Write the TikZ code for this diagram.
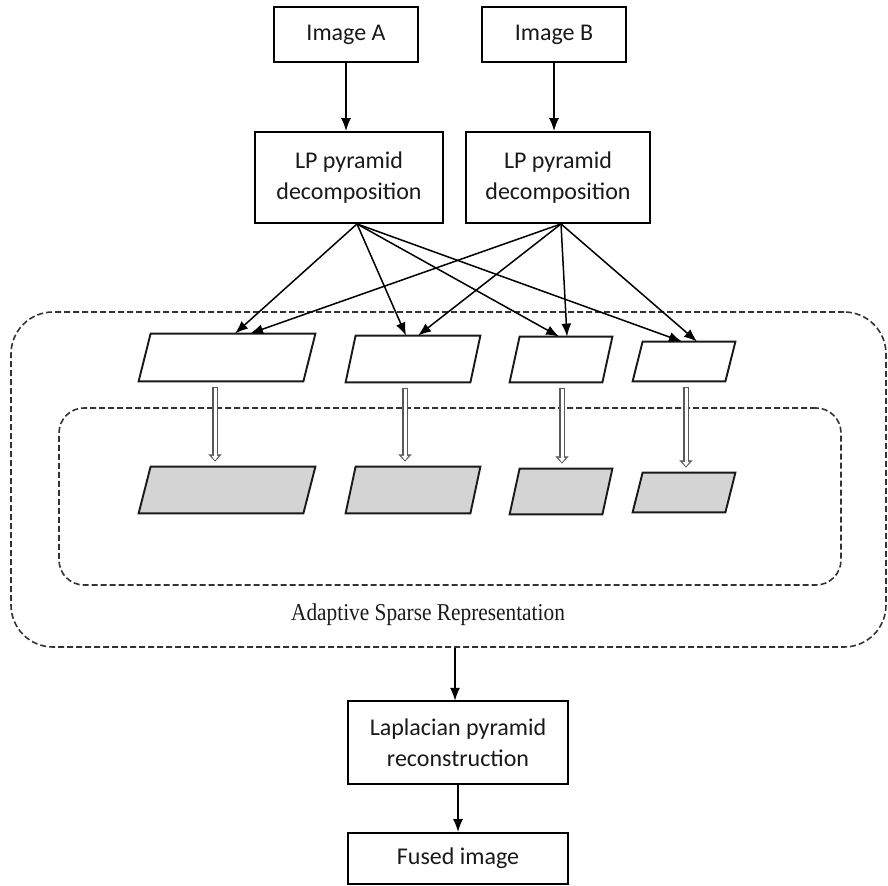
\documentclass[tikz,border=0pt]{standalone}
\usepackage{fontspec}
\usepackage{graphicx}
\setmainfont{Carlito}
\newfontfamily\serifT{Liberation Serif}
\usetikzlibrary{arrows.meta,calc}
\newcommand{\paral}[3]{%
  \draw[parastyle,#3] ([xshift=#2]#1.north west) -- ([xshift=#2]#1.north east)
    -- ([xshift=-#2]#1.south east) -- ([xshift=-#2]#1.south west) -- cycle;}
\newcommand{\hollowarrow}[2]{%
  \draw[dblout] #1 -- #2;
  \draw[dblin] #1 -- #2;}
\begin{document}
\begin{tikzpicture}[x=0.5pt,y=-0.5pt,
  box/.style={draw, line width=0.95pt, inner sep=0pt, align=center,
    font=\fontsize{12}{15.5}\selectfont, text=black!90},
  pnode/.style={rectangle, inner sep=0pt},
  parastyle/.style={draw=black!90, line width=0.95pt, line join=miter},
  arr/.style={line width=0.75pt, -{Latex[length=6.5pt,width=5pt]}},
  dblout/.style={draw=black!65, line width=2.6pt, shorten <=3pt, shorten >=2.5pt,
    -{Triangle[length=3.6pt,width=6.4pt]}},
  dblin/.style={draw=white, line width=1.5pt, shorten <=3.4pt, shorten >=3.2pt,
    -{Triangle[length=2.2pt,width=3.5pt]}},
  dsh/.style={draw=black!80, line width=0.8pt, dash pattern=on 3pt off 1.5pt,
    rounded corners=#1, inner sep=0pt},
]
\useasboundingbox (0,0) rectangle (888,886);

% dashed groups
\node[dsh=21pt, minimum width=437.5pt, minimum height=167.5pt] (asr) at (448.5,479.5) {};
\node[dsh=12.5pt, minimum width=391pt, minimum height=88.5pt] (inner) at (450,496.5) {};
\node[font=\serifT\fontsize{11}{13}\selectfont, text=black!90] (lbl) at (428,615)
  {\scalebox{0.97}[1.1]{Adaptive Sparse Representation}};

% top boxes
\node[box, minimum width=72pt, minimum height=27.5pt] (imgA) at (346,34.5) {Image A};
\node[box, minimum width=72pt, minimum height=27.5pt] (imgB) at (554,34.5) {Image B};
\node[box, minimum width=94pt, minimum height=45.5pt] (lpA) at (349,177.5) {LP pyramid\\decomposition};
\node[box, minimum width=92pt, minimum height=45.5pt] (lpB) at (558,177.5) {LP pyramid\\decomposition};

% parallelograms (named bodies)
\node[pnode, minimum width=82pt, minimum height=23.5pt] (t1) at (227,357.5) {};
\node[pnode, minimum width=62pt, minimum height=23pt] (t2) at (413,359) {};
\node[pnode, minimum width=46pt, minimum height=22.5pt] (t3) at (561,359.5) {};
\node[pnode, minimum width=46pt, minimum height=19.5pt] (t4) at (684,361.5) {};
\node[pnode, minimum width=82pt, minimum height=23pt] (b1) at (227,490) {};
\node[pnode, minimum width=62pt, minimum height=23pt] (b2) at (413,490) {};
\node[pnode, minimum width=46pt, minimum height=22.5pt] (b3) at (561,491.5) {};
\node[pnode, minimum width=46pt, minimum height=19.5pt] (b4) at (684,492.5) {};
\paral{t1}{3pt}{fill=white}
\paral{t2}{2.5pt}{fill=white}
\paral{t3}{2.5pt}{fill=white}
\paral{t4}{2.5pt}{fill=white}
\paral{b1}{3pt}{fill=black!17}
\paral{b2}{2.5pt}{fill=black!17}
\paral{b3}{2.5pt}{fill=black!17}
\paral{b4}{2.5pt}{fill=black!17}

% bottom boxes
\node[box, minimum width=110pt, minimum height=41.5pt] (lap) at (458,742.5) {Laplacian pyramid\\reconstruction};
\node[box, minimum width=110pt, minimum height=25.5pt] (fused) at (458,858.5) {Fused image};

% connectors
\draw[arr] (imgA.south) -- (imgA.south |- lpA.north);
\draw[arr] (imgB.south) -- (imgB.south |- lpB.north);

\coordinate (sA) at ($(lpA.south)+(8,0)$);
\coordinate (sB) at ($(lpB.south)+(3,0)$);

\draw[arr] (sA) -- ($(t1.north)+(8,0)$);
\draw[arr] (sA) -- ($(t2.north)+(-7,0)$);
\draw[arr] (sA) -- ($(t3.north)+(-2,0)$);
\draw[arr] (sA) -- ($(t4.north)+(-2,0)$);
\draw[arr] (sB) -- ($(t1.north)+(23,0)$);
\draw[arr] (sB) -- ($(t2.north)+(5,0)$);
\draw[arr] (sB) -- ($(t3.north)+(6,0)$);
\draw[arr] (sB) -- ($(t4.north)+(13,0)$);

\coordinate (d1) at ($(t1.center)+(-12,0)$);
\coordinate (d2) at ($(t2.center)+(-8,0)$);
\coordinate (d3) at ($(t3.center)+(1,0)$);
\coordinate (d4) at ($(t4.center)+(2,0)$);
\hollowarrow{(d1 |- t1.south)}{(d1 |- b1.north)}
\hollowarrow{(d2 |- t2.south)}{(d2 |- b2.north)}
\hollowarrow{(d3 |- t3.south)}{(d3 |- b3.north)}
\hollowarrow{(d4 |- t4.south)}{(d4 |- b4.north)}

\draw[arr] (lap.north |- asr.south) ++(-3,0) -- ++(0,53);
\draw[arr] (lap.south) -- (fused.north);
\end{tikzpicture}
\end{document}
